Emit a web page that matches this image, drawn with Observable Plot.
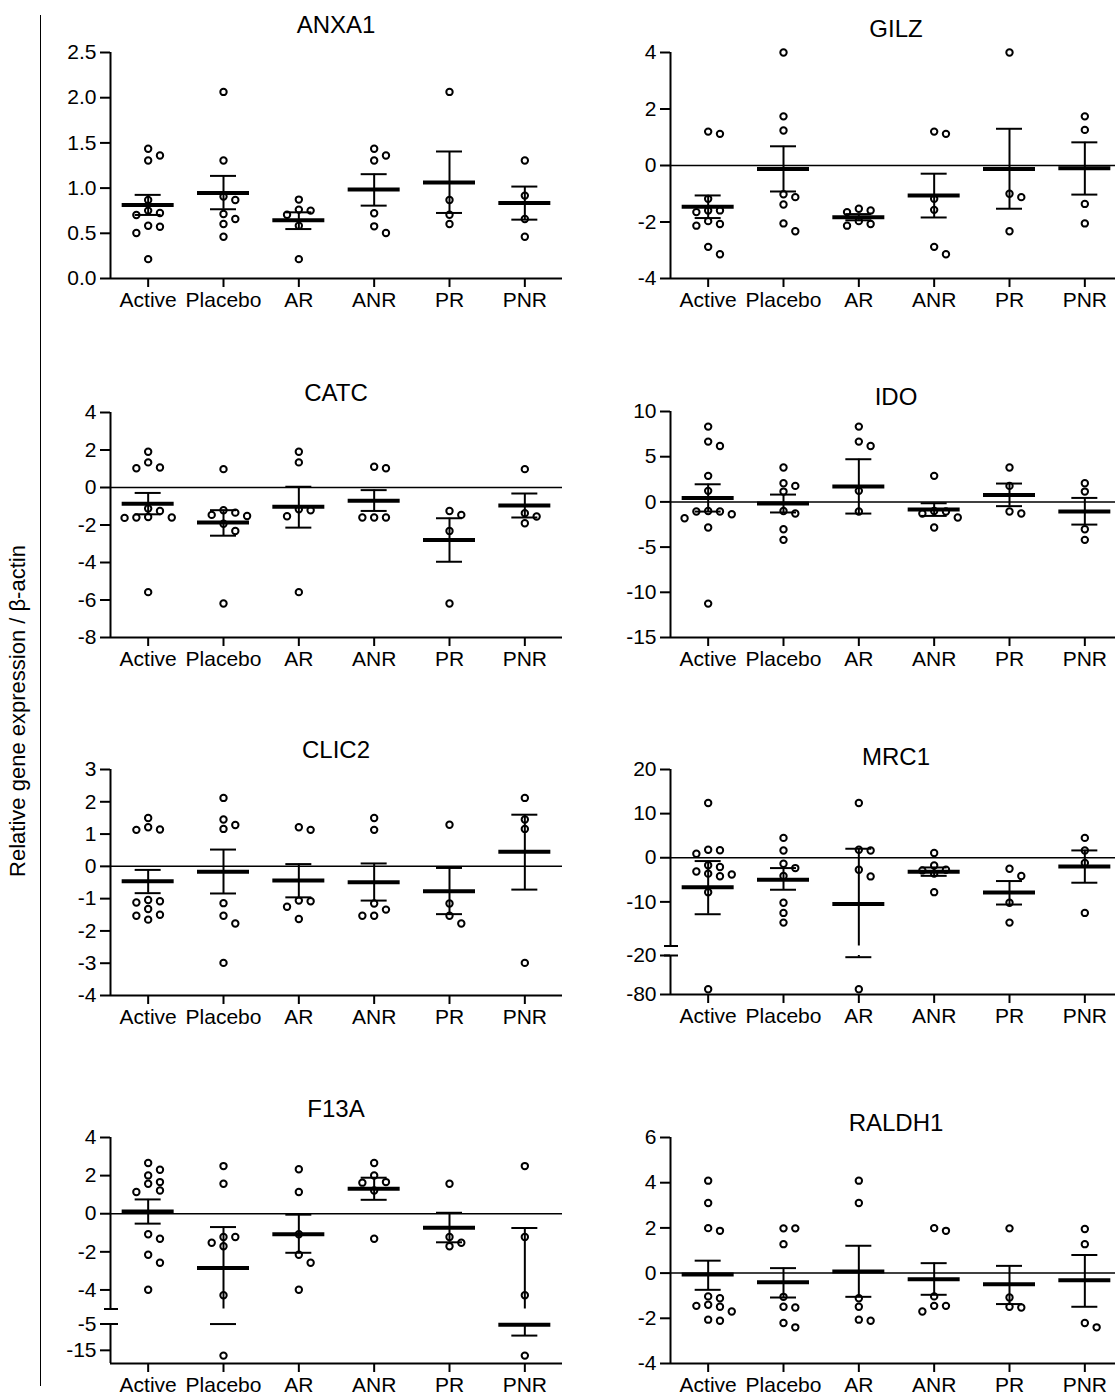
<!DOCTYPE html>
<html><head><meta charset="utf-8">
<script src="https://cdn.jsdelivr.net/npm/d3@7"></script>
<script src="https://cdn.jsdelivr.net/npm/@observablehq/plot@0.6"></script>
<style>
html,body{margin:0;padding:0;background:#fff;overflow:hidden;width:1115px;height:1398px;}
body{position:relative;font-family:"Liberation Sans",Arial,sans-serif;color:#000;}
.panel{position:absolute;}
.title{position:absolute;font-size:24px;transform:translate(-50%,-50%);white-space:nowrap;line-height:1;}
#ylab{position:absolute;left:18px;top:711px;transform:translate(-50%,-50%) rotate(-90deg);font-size:22px;white-space:nowrap;line-height:1;}
#bracket{position:absolute;left:40px;top:15px;width:0;height:1371px;border-left:1.5px solid #000;}
[aria-label="x-axis tick"] path,[aria-label="y-axis tick"] path,.tick line{stroke-width:2px;}
</style></head><body>
<div id="bracket"></div>
<div id="ylab">Relative gene expression / β-actin</div>
<script>
const groups = ["Active", "Placebo", "AR", "ANR", "PR", "PNR"];

// ANXA1
const ANXA1_points = [
  [1.435, 1.361, 1.305, 0.869, 0.751, 0.725, 0.703, 0.584, 0.573, 0.503, 0.214],
  [2.064, 1.305, 0.906, 0.869, 0.714, 0.658, 0.603, 0.462],
  [0.873, 0.762, 0.751, 0.706, 0.584, 0.214],
  [1.435, 1.361, 1.305, 0.721, 0.577, 0.503],
  [2.064, 0.869, 0.706, 0.603],
  [1.305, 0.917, 0.658, 0.462]];
const ANXA1_mean = [0.814, 0.947, 0.643, 0.984, 1.061, 0.836];
const ANXA1_hi = [0.925, 1.135, 0.732, 1.154, 1.405, 1.017];
const ANXA1_lo = [0.703, 0.766, 0.547, 0.806, 0.725, 0.651];
const ANXA1_ticks = [0, 0.5, 1, 1.5, 2, 2.5];

// GILZ
const GILZ_points = [
  [1.20, 1.12, -1.18, -1.59, -1.59, -1.65, -1.97, -2.07, -2.13, -2.88, -3.14],
  [4.0, 1.74, 1.24, -1.02, -1.12, -1.38, -2.05, -2.33],
  [-1.53, -1.59, -1.65, -1.97, -2.07, -2.13],
  [1.20, 1.12, -1.18, -1.57, -2.88, -3.14],
  [4.0, -1.0, -1.12, -2.33],
  [1.74, 1.26, -1.36, -2.05]];
const GILZ_mean = [-1.46, -0.12, -1.83, -1.06, -0.12, -0.10];
const GILZ_hi = [-1.06, 0.68, -1.72, -0.29, 1.30, 0.82];
const GILZ_lo = [-1.86, -0.92, -1.94, -1.84, -1.53, -1.03];
const GILZ_ticks = [-4, -2, 0, 2, 4];

// CATC
const CATC_points = [
  [1.91, 1.34, 1.07, 1.03, -1.12, -1.25, -1.57, -1.60, -1.60, -1.62, -5.58],
  [0.98, -1.21, -1.34, -1.46, -1.52, -1.93, -2.32, -6.19],
  [1.91, 1.34, -1.16, -1.21, -1.53, -5.58],
  [1.11, 1.03, -1.60, -1.60, -1.60],
  [-1.25, -1.46, -2.32, -6.19],
  [0.98, -1.37, -1.55, -1.91]];
const CATC_mean = [-0.86, -1.87, -1.03, -0.70, -2.80, -0.96];
const CATC_hi = [-0.29, -1.21, 0.04, -0.14, -1.64, -0.32];
const CATC_lo = [-1.43, -2.57, -2.14, -1.25, -3.96, -1.60];
const CATC_ticks = [-8, -6, -4, -2, 0, 2, 4];

// IDO
const IDO_points = [
  [8.33, 6.67, 6.19, 2.88, 1.22, -1.0, -1.07, -1.07, -1.36, -1.81, -2.84, -11.25],
  [3.80, 2.06, 1.77, 1.14, -1.0, -1.29, -3.02, -4.20],
  [8.33, 6.67, 6.19, 1.22, -1.07],
  [2.88, -1.0, -1.07, -1.29, -1.73, -2.84],
  [3.80, 1.77, -1.07, -1.29],
  [2.06, 1.14, -3.02, -4.20]];
const IDO_mean = [0.44, -0.18, 1.70, -0.85, 0.77, -1.07];
const IDO_hi = [1.95, 0.81, 4.72, -0.15, 2.03, 0.44];
const IDO_lo = [-1.07, -1.17, -1.29, -1.55, -0.47, -2.51];
const IDO_ticks = [-15, -10, -5, 0, 5, 10];

// CLIC2
const CLIC2_points = [
  [1.50, 1.21, 1.14, 1.13, -1.04, -1.08, -1.12, -1.32, -1.50, -1.53, -1.65],
  [2.12, 1.45, 1.28, 1.16, -1.14, -1.53, -1.77, -2.99],
  [1.21, 1.13, -1.06, -1.08, -1.25, -1.63],
  [1.50, 1.13, -1.15, -1.34, -1.53, -1.53],
  [1.29, -1.15, -1.53, -1.77],
  [2.12, 1.45, 1.16, -2.99]];
const CLIC2_mean = [-0.46, -0.17, -0.44, -0.49, -0.77, 0.45];
const CLIC2_hi = [-0.11, 0.52, 0.07, 0.09, -0.05, 1.60];
const CLIC2_lo = [-0.83, -0.84, -0.96, -1.06, -1.48, -0.72];
const CLIC2_ticks = [-4, -3, -2, -1, 0, 1, 2, 3];

// MRC1 (broken axis)
const MRC1_points = [
  [12.4, 1.8, 1.7, 0.9, -1.7, -2.1, -3.1, -3.6, -3.8, -4.2, -7.8, -72],
  [4.5, 1.66, -1.36, -2.34, -4.15, -10.2, -12.5, -14.7],
  [12.4, 1.81, 1.66, -2.72, -4.23, -72],
  [1.06, -1.74, -2.72, -2.87, -3.6, -7.8],
  [-2.49, -4.15, -10.2, -14.7],
  [4.5, 1.66, -1.2, -12.5]];
const MRC1_mean = [-6.7, -4.98, -10.5, -3.17, -7.9, -1.96];
const MRC1_hi = [-0.75, -2.34, 2.04, -2.2, -5.28, 1.66];
const MRC1_lo = [-12.8, -7.25, -22.6, -4.1, -10.6, -5.66];
const MRC1_ticksUpper = [-10, 0, 10, 20];
const MRC1_ticksLower = [-80, -20];

// F13A (broken axis)
const F13A_points = [
  [2.66, 2.31, 2.01, 1.66, 1.57, 1.22, 1.14, -1.08, -1.31, -2.15, -2.57, -3.99],
  [2.50, 1.57, -1.22, -1.22, -1.52, -1.71, -4.28, -17],
  [2.33, 1.14, -1.08, -2.15, -2.57, -3.99],
  [2.66, 2.01, 1.66, 1.63, 1.22, -1.31],
  [1.57, -1.22, -1.52, -1.71],
  [2.50, -1.22, -4.28, -17]];
const F13A_mean = [0.12, -2.85, -1.08, 1.31, -0.73, -5.25];
const F13A_hi = [0.75, -0.70, -0.05, 1.89, 0.05, -0.75];
const F13A_lo = [-0.52, -5.02, -2.05, 0.73, -1.50, -9.4];
const F13A_ticksUpper = [-4, -2, 0, 2, 4];
const F13A_ticksLower = [-15, -5];

// RALDH1
const RALDH1_points = [
  [4.09, 3.10, 1.99, 1.87, -1.03, -1.11, -1.40, -1.45, -1.49, -1.70, -2.06, -2.11],
  [1.98, 1.98, 1.28, -1.05, -1.49, -1.52, -2.21, -2.40],
  [4.09, 3.10, -1.11, -1.49, -2.06, -2.11],
  [1.99, 1.87, -1.03, -1.45, -1.45, -1.70],
  [1.98, -1.08, -1.49, -1.52],
  [1.95, 1.28, -2.21, -2.40]];
const RALDH1_mean = [-0.06, -0.41, 0.07, -0.27, -0.49, -0.32];
const RALDH1_hi = [0.55, 0.22, 1.21, 0.44, 0.32, 0.80];
const RALDH1_lo = [-0.74, -1.08, -1.05, -0.96, -1.37, -1.49];
const RALDH1_ticks = [-4, -2, 0, 2, 4, 6];

// ---------- layout ----------
const W = 452, ML = 72, MR = 6, MT = 12, MB = 50;
const colLeft = [110, 670], colTitle = [336, 896];
const panels = [
  {name: "ANXA1", col: 0, frame: [52, 278], titleY: 25, points: ANXA1_points, mean: ANXA1_mean, hi: ANXA1_hi, lo: ANXA1_lo, ticks: ANXA1_ticks, domain: [0, 2.5], zero: false, fmt: v => v.toFixed(1)},
  {name: "GILZ", col: 1, frame: [52, 278], titleY: 29, points: GILZ_points, mean: GILZ_mean, hi: GILZ_hi, lo: GILZ_lo, ticks: GILZ_ticks, domain: [-4, 4], zero: true},
  {name: "CATC", col: 0, frame: [412, 637], titleY: 393, points: CATC_points, mean: CATC_mean, hi: CATC_hi, lo: CATC_lo, ticks: CATC_ticks, domain: [-8, 4], zero: true},
  {name: "IDO", col: 1, frame: [411, 637], titleY: 397, points: IDO_points, mean: IDO_mean, hi: IDO_hi, lo: IDO_lo, ticks: IDO_ticks, domain: [-15, 10], zero: true},
  {name: "CLIC2", col: 0, frame: [769, 995], titleY: 750, points: CLIC2_points, mean: CLIC2_mean, hi: CLIC2_hi, lo: CLIC2_lo, ticks: CLIC2_ticks, domain: [-4, 3], zero: true},
  {name: "MRC1", col: 1, frame: [769, 994], titleY: 757, points: MRC1_points, mean: MRC1_mean, hi: MRC1_hi, lo: MRC1_lo, ticksUpper: MRC1_ticksUpper, ticksLower: MRC1_ticksLower, breaks: {upper: [-20, 20], lower: [-80, -20], lowerPx: 39, gapPx: 9.5}, zero: true},
  {name: "F13A", col: 0, frame: [1137, 1363], titleY: 1109, points: F13A_points, mean: F13A_mean, hi: F13A_hi, lo: F13A_lo, ticksUpper: F13A_ticksUpper, ticksLower: F13A_ticksLower, breaks: {upper: [-5, 4], lower: [-20, -5], lowerPx: 39.5, gapPx: 15}, zero: true},
  {name: "RALDH1", col: 1, frame: [1137, 1363], titleY: 1123, points: RALDH1_points, mean: RALDH1_mean, hi: RALDH1_hi, lo: RALDH1_lo, ticks: RALDH1_ticks, domain: [-4, 6], zero: true}
];

const step = W / groups.length;     // px per group
const lanePx = 11.8, collidePx = 8.2;
const meanHalf = 26 / step, capHalf = 13 / step;

function render(p) {
  const H = p.frame[1] - p.frame[0];
  const fmt = p.fmt || (v => String(v));
  let tOf, ticks = [], segs, inLower = () => false, fl = 0, fg = 0;
  if (p.breaks) {
    const b = p.breaks;
    fl = b.lowerPx / H; fg = b.gapPx / H;
    const fu = 1 - fl - fg;
    const tU = v => fl + fg + (v - b.upper[0]) / (b.upper[1] - b.upper[0]) * fu;
    const tL = v => (v - b.lower[0]) / (b.lower[1] - b.lower[0]) * fl;
    inLower = v => v < b.upper[0];
    tOf = v => inLower(v) ? tL(v) : tU(v);
    p.ticksUpper.forEach(v => ticks.push([tU(v), fmt(v)]));
    p.ticksLower.forEach(v => ticks.push([tL(v), fmt(v)]));
    segs = [{x: -0.5, y1: 0, y2: fl}, {x: -0.5, y1: fl + fg, y2: 1}];
  } else {
    const [d0, d1] = p.domain;
    tOf = v => (v - d0) / (d1 - d0);
    p.ticks.forEach(v => ticks.push([tOf(v), fmt(v)]));
    segs = [{x: -0.5, y1: 0, y2: 1}];
  }
  const labelMap = new Map(ticks);

  // dots with simple greedy dodge into lanes
  const dots = [];
  p.points.forEach((vals, i) => {
    const placed = [];
    vals.forEach(v => {
      const py = tOf(v) * H;
      for (const lane of [0, 1, -1, 2, -2, 3, -3]) {
        if (!placed.some(q => q.lane === lane && Math.abs(q.py - py) < collidePx)) {
          placed.push({lane, py});
          dots.push({x: i + lane * lanePx / step, y: tOf(v)});
          break;
        }
      }
    });
  });

  // whiskers (split across the axis break)
  const whiskers = [];
  groups.forEach((g, i) => {
    const lo = p.lo[i], hi = p.hi[i];
    if (p.breaks && inLower(lo) && !inLower(hi)) {
      whiskers.push({x: i, y1: tOf(lo), y2: fl});
      whiskers.push({x: i, y1: fl + fg, y2: tOf(hi)});
    } else whiskers.push({x: i, y1: tOf(lo), y2: tOf(hi)});
  });
  const caps = [];
  groups.forEach((g, i) => {
    caps.push({x1: i - capHalf, x2: i + capHalf, y: tOf(p.hi[i])});
    caps.push({x1: i - capHalf, x2: i + capHalf, y: tOf(p.lo[i])});
  });
  const means = groups.map((g, i) => ({x1: i - meanHalf, x2: i + meanHalf, y: tOf(p.mean[i])}));
  const base = [{x1: -0.5, x2: 5.5, y: 0}];
  const zeroLine = p.zero ? [{x1: -0.5, x2: 5.5, y: tOf(0)}] : [];
  const breakMarks = p.breaks ? [fl, fl + fg].map(y => ({x1: -0.5 - 6 / step, x2: -0.5 + 8 / step, y})) : [];

  const chart = Plot.plot({
    width: ML + W + MR,
    height: MT + H + MB,
    marginLeft: ML, marginRight: MR, marginTop: MT, marginBottom: MB,
    style: {fontFamily: "Liberation Sans, Arial, sans-serif", fontSize: "21px", background: "transparent", overflow: "visible", color: "#000"},
    x: {domain: [-0.5, 5.5], ticks: [0, 1, 2, 3, 4, 5], tickFormat: i => groups[i], tickSize: 9, tickPadding: 5, label: null},
    y: {domain: [0, 1], ticks: ticks.map(d => d[0]), tickFormat: d => labelMap.get(d), tickSize: 10, tickPadding: 4, label: null},
    marks: [
      Plot.ruleY(zeroLine, {x1: "x1", x2: "x2", y: "y", stroke: "#000", strokeWidth: 1.5}),
      Plot.ruleX(segs, {x: "x", y1: "y1", y2: "y2", stroke: "#000", strokeWidth: 2}),
      Plot.ruleY(base, {x1: "x1", x2: "x2", y: "y", stroke: "#000", strokeWidth: 2}),
      Plot.ruleY(breakMarks, {x1: "x1", x2: "x2", y: "y", stroke: "#000", strokeWidth: 2}),
      Plot.ruleX(whiskers, {x: "x", y1: "y1", y2: "y2", stroke: "#000", strokeWidth: 2}),
      Plot.ruleY(caps, {x1: "x1", x2: "x2", y: "y", stroke: "#000", strokeWidth: 2}),
      Plot.ruleY(means, {x1: "x1", x2: "x2", y: "y", stroke: "#000", strokeWidth: 4}),
      Plot.dot(dots, {x: "x", y: "y", r: 3.2, stroke: "#000", strokeWidth: 2, fill: "none"})
    ]
  });
  chart.classList.add("panel");
  chart.style.left = (colLeft[p.col] - ML) + "px";
  chart.style.top = (p.frame[0] - MT) + "px";
  chart.style.position = "absolute";
  document.body.appendChild(chart);

  const t = document.createElement("div");
  t.className = "title";
  t.textContent = p.name;
  t.style.left = colTitle[p.col] + "px";
  t.style.top = p.titleY + "px";
  document.body.appendChild(t);
}
panels.forEach(render);
</script>
</body></html>
